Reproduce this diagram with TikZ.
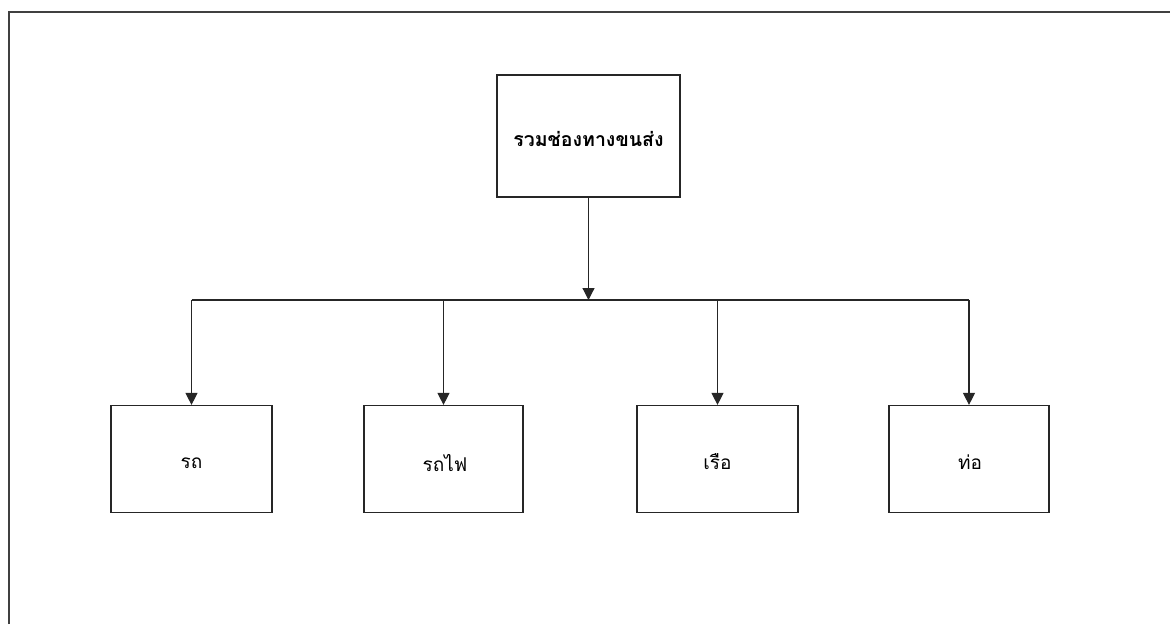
\documentclass[tikz,border=0pt]{standalone}
\usepackage{fontspec}
\newfontfamily\thaifont[Script=Thai]{Loma}
\usetikzlibrary{arrows.meta}
\begin{document}
\begin{tikzpicture}[x=1pt,y=-1pt,
  box/.style={draw=black!85,line width=1.2pt,rectangle,inner sep=0pt,font=\thaifont\fontsize{19}{22}\selectfont},
  conn/.style={draw=black!85,line width=1.2pt},
  arr/.style={conn,-{Triangle[width=12pt,length=12pt]}}]
\useasboundingbox (0,0) rectangle (1170,624);
\draw[black!75,line width=1.5pt] (9,624) -- (9,12) -- (1170,12);
\node[box,minimum width=183pt,minimum height=122pt] (top) at (588.5,136) {};
\node[font=\thaifont\bfseries\fontsize{19.5}{22}\selectfont,inner sep=0pt] (toplabel) at (588.5,139) {รวมช่องทางขนส่ง};
\node[box,minimum width=161pt,minimum height=107pt] (b1) at (191.5,459) {};
\node[box,minimum width=159pt,minimum height=107pt] (b2) at (443.5,459) {};
\node[box,minimum width=161pt,minimum height=107pt] (b3) at (717.5,459) {};
\node[box,minimum width=160pt,minimum height=107pt] (b4) at (969,459) {};
\node[font=\thaifont\fontsize{19}{22}\selectfont,inner sep=0pt] (l1) at (191.5,463) {รถ};
\node[font=\thaifont\fontsize{19}{22}\selectfont,inner sep=0pt] (l2) at (445,463) {รถไฟ};
\node[font=\thaifont\fontsize{19}{22}\selectfont,inner sep=0pt] (l3) at (717.5,462) {เรือ};
\node[font=\thaifont\fontsize{19}{22}\selectfont,inner sep=0pt] (l4) at (970,462) {ท่อ};
\coordinate (bus) at (588.5,300);
\coordinate (busL) at (191.5,300);
\coordinate (busR) at (969,300);
\draw[arr] (top.south) -- (bus);
\draw[conn] (busL) -- (busR);
\draw[arr] (busL) -- (b1.north);
\draw[arr] (b2.north |- bus) -- (b2.north);
\draw[arr] (b3.north |- bus) -- (b3.north);
\draw[arr] (busR) -- (b4.north);
\end{tikzpicture}
\end{document}
